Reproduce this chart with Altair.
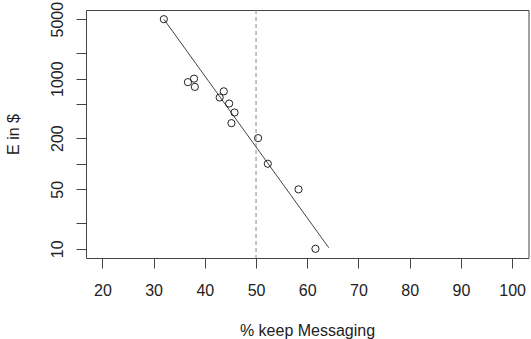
import altair as alt
import pandas as pd

# Observations: share of users who keep messaging vs. cost E (log scale)
keep_pct = [32.0, 36.7, 37.9, 38.05, 42.9, 43.7, 44.75, 45.2, 45.8, 50.4, 52.3, 58.3, 61.6]
cost = [5000, 910, 1000, 800, 600, 710, 510, 300, 400, 200, 100, 50, 10]

# Fitted trend line (end points)
fit_pct = [32.0, 64.2]
fit_cost = [5000, 10.3]

# Reference cut-off
cutoff_pct = [50]

x_ticks = [20, 30, 40, 50, 60, 70, 80, 90, 100]
y_ticks = [10, 20, 50, 100, 200, 500, 1000, 2000, 5000]
y_labelled = [10, 50, 200, 1000, 5000]

points_df = pd.DataFrame({"pct": keep_pct, "cost": cost})
fit_df = pd.DataFrame({"pct": fit_pct, "cost": fit_cost})
cut_df = pd.DataFrame({"pct": cutoff_pct})

FONT = "Liberation Sans"
INK = "#333333"

x_enc = alt.X(
    "pct:Q",
    scale=alt.Scale(domain=[16.8, 103.2], nice=False, zero=False),
    axis=alt.Axis(
        values=x_ticks,
        title="% keep Messaging",
        titleX=221,
        titleY=77,
        titleAlign="center",
        titleBaseline="alphabetic",
        labelPadding=14,
        labelFlush=False,
        labelOverlap=False,
    ),
)

label_test = " || ".join(f"datum.value == {v}" for v in y_labelled)
y_enc = alt.Y(
    "cost:Q",
    scale=alt.Scale(type="log", domain=[7.8, 6412], nice=False),
    axis=alt.Axis(
        values=y_ticks,
        title="E in $",
        titleAngle=270,
        titleX=-68,
        titleY=124,
        titleAlign="center",
        titleBaseline="alphabetic",
        labelAngle=270,
        labelAlign="center",
        labelBaseline="alphabetic",
        labelPadding=14,
        labelFlush=False,
        labelOverlap=False,
        labelExpr=f"({label_test}) ? format(datum.value, 'd') : ''",
    ),
)

cut = alt.Chart(cut_df).mark_rule(
    color="#888888", strokeDash=[4, 3], strokeWidth=1
).encode(x=alt.X("pct:Q"))

fit = alt.Chart(fit_df).mark_line(color="#444444", strokeWidth=1).encode(
    x=alt.X("pct:Q"), y=alt.Y("cost:Q")
)

pts = alt.Chart(points_df).mark_point(
    shape="circle", filled=False, size=52, stroke="#222222", strokeWidth=1, opacity=1
).encode(x=x_enc, y=y_enc)

chart = (
    alt.layer(cut, fit, pts)
    .properties(
        width=442.5,
        height=248,
        autosize="none",
        padding={"left": 86, "top": 10, "right": 2, "bottom": 81},
        background="white",
    )
    .configure_view(stroke="#444444", strokeWidth=1)
    .configure_axis(
        grid=False,
        domain=False,
        tickSize=10,
        tickColor="#444444",
        tickWidth=1,
        labelFont=FONT,
        labelFontSize=16,
        labelColor="#222222",
        titleFont=FONT,
        titleFontSize=16,
        titleFontWeight="normal",
        titleColor="#222222",
    )
)

chart.save("out.html", embed_options={"renderer": "svg", "actions": False})
